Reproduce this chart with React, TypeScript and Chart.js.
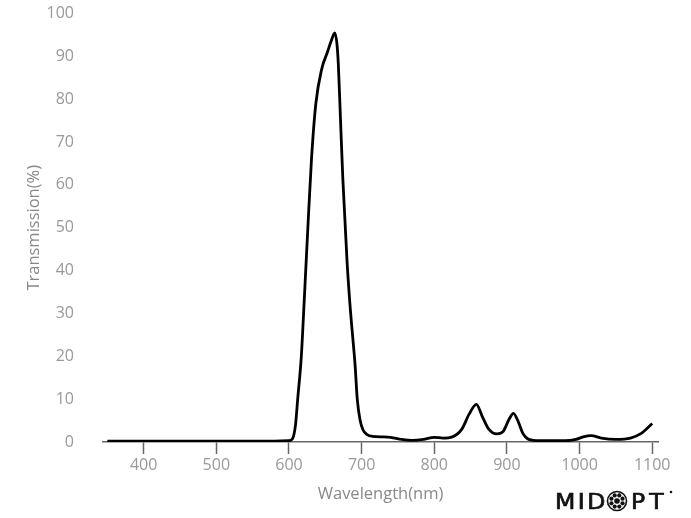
import React, { useEffect, useRef } from "react";
import { Chart, registerables } from "chart.js";

Chart.register(...registerables);

const wavelengths = [
  350, 400, 500, 580, 600, 605, 609, 612, 617, 621, 626, 631, 637, 645, 653, 658, 663, 666, 668, 671, 674, 677,
  680, 684, 688, 691, 694, 698, 702, 707, 715, 730, 740, 755, 770, 785, 800, 812, 825, 838, 848, 858, 866, 875,
  886, 895, 903, 909, 915, 922, 930, 945, 980, 995, 1005, 1016, 1030, 1050, 1070, 1085, 1100,
];
const transmission = [
  0.2, 0.2, 0.2, 0.2, 0.3, 0.8, 4, 10, 20, 33, 50, 66, 79, 87, 91, 93.5, 95.5, 93, 88, 75, 62, 52,
  42, 32, 24, 18, 10, 5, 2.8, 1.8, 1.3, 1.2, 1.1, 0.6, 0.4, 0.6, 1.1, 0.9, 1.2, 3, 6.5, 8.8, 6, 3,
  1.9, 2.5, 5.3, 6.7, 5, 2, 0.6, 0.3, 0.3, 0.6, 1.2, 1.5, 0.9, 0.6, 0.9, 2, 4.3,
];
const xTicks = [400, 500, 600, 700, 800, 900, 1000, 1100];
const xTitle = "Wavelength(nm)";
const yTitle = "Transmission(%)";
const brand = ["MID", "PT"];

const logoPlugin = {
  id: "logo",
  afterDraw(chart: any) {
    const ctx = chart.ctx;
    ctx.save();
    ctx.fillStyle = "#111";
    ctx.strokeStyle = "#111";
    ctx.font = "21px 'DejaVu Sans', sans-serif";
    ctx.textBaseline = "alphabetic";
    const base = 509;
    const sx = 1.12;
    const drawWord = (word: string, start: number, gap: number) => {
      let x = start;
      for (const ch of word) {
        ctx.save();
        ctx.translate(x, base);
        ctx.scale(sx, 1);
        ctx.fillText(ch, 0, 0);
        ctx.lineWidth = 0.7;
        ctx.strokeText(ch, 0, 0);
        ctx.restore();
        x += ctx.measureText(ch).width * sx + gap;
      }
      return x;
    };
    drawWord(brand[0], 555, 2.5);
    const cx = 617;
    const cy = base - 8;
    ctx.beginPath();
    ctx.arc(cx, cy, 9.5, 0, Math.PI * 2);
    ctx.lineWidth = 1.6;
    ctx.stroke();
    for (let i = 0; i < 8; i++) {
      const a = (i * Math.PI) / 4 + Math.PI / 8;
      ctx.beginPath();
      ctx.arc(cx + Math.cos(a) * 6, cy + Math.sin(a) * 6, 2.1, 0, Math.PI * 2);
      ctx.fill();
    }
    ctx.beginPath();
    ctx.arc(cx, cy, 2.8, 0, Math.PI * 2);
    ctx.fill();
    drawWord(brand[1], 631, 4);
    ctx.beginPath();
    ctx.arc(671, base - 17, 1.3, 0, Math.PI * 2);
    ctx.fill();
    ctx.restore();
  },
};

export default function App() {
  const ref = useRef<HTMLCanvasElement>(null);
  useEffect(() => {
    if (!ref.current) return;
    const chart = new Chart(ref.current, {
      type: "line",
      data: {
        datasets: [
          {
            data: wavelengths.map((w, i) => ({ x: w, y: transmission[i] })),
            borderColor: "#000",
            borderWidth: 2.8,
            pointRadius: 0,
            cubicInterpolationMode: "monotone",
            fill: false,
          },
        ],
      },
      options: {
        animation: false,
        responsive: true,
        maintainAspectRatio: false,
        layout: { padding: { top: 13.5, right: 33, left: 0, bottom: 0 } },
        plugins: { legend: { display: false }, tooltip: { enabled: false } },
        scales: {
          x: {
            type: "linear",
            min: 344,
            max: 1108,
            afterBuildTicks: (scale: any) => {
              scale.ticks = xTicks.map((v) => ({ value: v }));
            },
            afterFit: (scale: any) => {
              scale.height = 76;
            },
            grid: {
              display: true,
              drawOnChartArea: false,
              drawTicks: true,
              tickLength: 12,
              tickColor: "#666",
              tickWidth: 1.5,
            },
            border: { display: true, color: "#666", width: 1.5 },
            ticks: {
              color: "#999",
              font: { family: "'Open Sans', sans-serif", size: 16 },
              padding: 2,
              maxRotation: 0,
              callback: (v: any) => String(v),
            },
            title: {
              display: true,
              text: xTitle,
              color: "#888",
              font: { family: "'Open Sans', sans-serif", size: 16.5 },
              padding: { top: 0, bottom: 14 },
            },
          },
          y: {
            min: 0,
            max: 100,
            afterFit: (scale: any) => {
              scale.width = 103;
              scale.paddingTop = 0;
              scale.paddingBottom = 0;
            },
            grid: { display: false },
            border: { display: false },
            ticks: {
              stepSize: 10,
              color: "#999",
              font: { family: "'Open Sans', sans-serif", size: 16 },
              padding: 21,
              callback: (v: any) => String(v),
            },
            title: {
              display: true,
              text: yTitle,
              color: "#888",
              font: { family: "'Open Sans', sans-serif", size: 16.5 },
              padding: { top: 24, bottom: 0 },
            },
          },
        },
      },
      plugins: [logoPlugin],
    } as any);
    return () => chart.destroy();
  }, []);
  return (
    <div style={{ position: "fixed", left: 0, top: 0, width: 691, height: 518, background: "#fff" }}>
      <canvas ref={ref} />
    </div>
  );
}
